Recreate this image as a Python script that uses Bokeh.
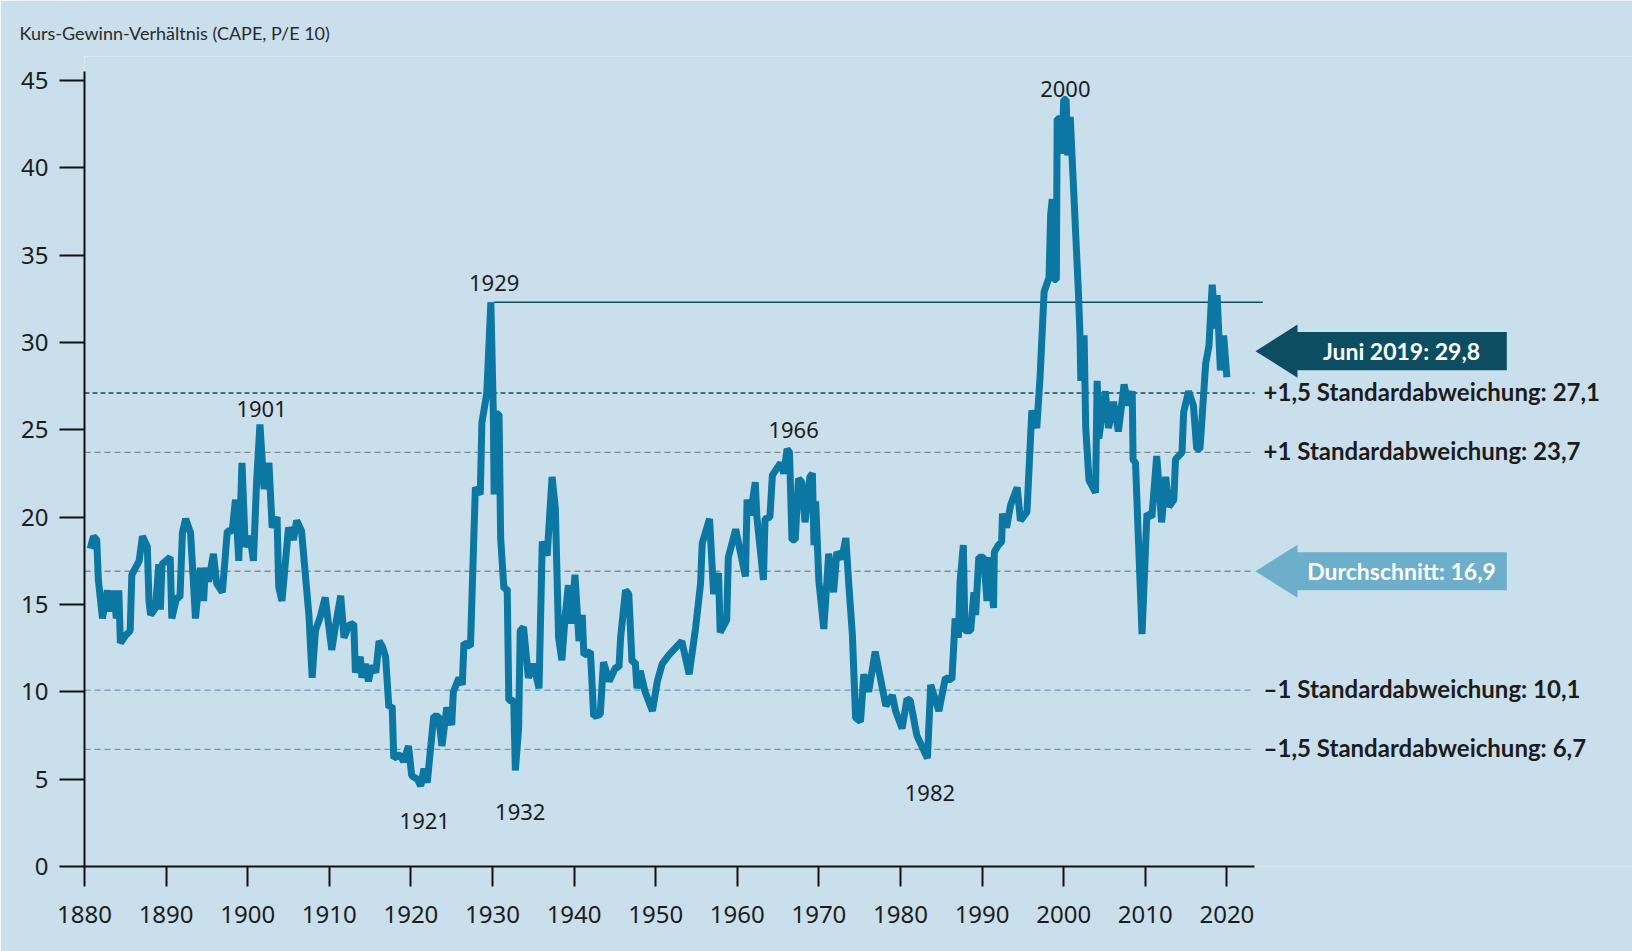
from bokeh.plotting import figure
from bokeh.models import Range1d, FixedTicker
from bokeh.core.properties import value
from bokeh.embed import file_html
from bokeh.resources import INLINE

# ---------------- data ----------------
years = [
    1880.7, 1881.1, 1881.5, 1881.7, 1882.2, 1882.8, 1883.2, 1883.6, 1883.9, 1884.2,
    1884.4, 1885.0, 1885.6, 1885.8, 1886.7, 1887.1, 1887.7, 1887.9, 1888.1, 1888.7,
    1889.1, 1889.3, 1889.5, 1890.5, 1890.7, 1891.3, 1891.7, 1892.0, 1892.4, 1893.0,
    1893.6, 1894.2, 1894.6, 1894.8, 1895.2, 1895.8, 1896.2, 1896.9, 1897.5, 1898.1,
    1898.5, 1898.9, 1899.3, 1899.7, 1900.3, 1900.7, 1901.1, 1901.5, 1902.0, 1902.6,
    1903.0, 1903.6, 1903.8, 1904.2, 1905.0, 1905.6, 1906.0, 1906.6, 1907.5, 1907.9,
    1908.3, 1908.9, 1909.5, 1910.3, 1910.8, 1911.4, 1911.8, 1912.4, 1913.0, 1913.2,
    1913.8, 1914.0, 1914.4, 1914.8, 1915.2, 1915.7, 1916.1, 1916.5, 1916.9, 1917.3,
    1917.7, 1917.9, 1918.7, 1919.1, 1919.7, 1920.1, 1920.8, 1921.2, 1921.6, 1922.0,
    1922.8, 1923.4, 1923.8, 1924.4, 1925.0, 1925.2, 1925.9, 1926.3, 1926.5, 1927.3,
    1927.9, 1928.5, 1928.7, 1929.3, 1929.8, 1930.1, 1930.2, 1930.5, 1930.8, 1931.0,
    1931.4, 1931.8, 1932.0, 1932.6, 1932.8, 1933.2, 1933.4, 1933.8, 1934.4, 1935.0,
    1935.7, 1936.1, 1936.7, 1937.3, 1937.7, 1938.1, 1938.5, 1938.9, 1939.3, 1939.7,
    1940.1, 1940.6, 1941.0, 1941.2, 1942.0, 1942.4, 1943.2, 1943.6, 1944.3, 1945.1,
    1945.5, 1945.7, 1946.3, 1946.7, 1947.1, 1947.5, 1947.7, 1948.1, 1948.7, 1949.6,
    1950.2, 1950.8, 1951.6, 1953.2, 1954.1, 1954.9, 1955.5, 1955.7, 1956.6, 1957.1,
    1957.7, 1957.9, 1958.7, 1958.9, 1959.8, 1961.0, 1961.2, 1961.6, 1962.2, 1962.4,
    1963.2, 1963.4, 1964.0, 1964.3, 1965.3, 1965.7, 1966.1, 1966.4, 1966.7, 1967.1,
    1967.5, 1967.9, 1968.3, 1968.9, 1969.2, 1969.4, 1969.6, 1970.0, 1970.6, 1971.2,
    1971.8, 1972.2, 1972.8, 1973.3, 1973.7, 1974.1, 1974.5, 1975.1, 1975.5, 1976.1,
    1976.9, 1978.2, 1979.0, 1979.4, 1980.2, 1980.8, 1981.2, 1982.0, 1983.3, 1983.7,
    1984.7, 1985.5, 1986.3, 1986.7, 1987.1, 1987.3, 1987.7, 1987.9, 1988.6, 1989.0,
    1989.2, 1989.6, 1990.2, 1990.6, 1991.0, 1991.4, 1991.5, 1992.0, 1992.4, 1992.5,
    1993.0, 1993.5, 1994.3, 1994.7, 1995.5, 1995.9, 1996.1, 1996.7, 1997.1, 1997.6,
    1998.2, 1998.4, 1998.6, 1998.8, 1999.1, 1999.2, 1999.6, 1999.8, 2000.0, 2000.3,
    2000.5, 2000.8, 2001.8, 2002.0, 2002.1, 2002.5, 2002.7, 2003.1, 2003.9, 2004.1,
    2004.3, 2005.1, 2005.5, 2006.1, 2006.7, 2007.4, 2007.9, 2008.4, 2008.5, 2008.8,
    2009.6, 2010.2, 2010.8, 2011.4, 2012.0, 2012.5, 2012.9, 2013.5, 2013.7, 2014.5,
    2014.7, 2015.3, 2015.9, 2016.3, 2016.7, 2017.4, 2017.8, 2018.2, 2018.4, 2018.6,
    2018.8, 2019.2, 2019.6, 2020.0,
]
cape = [
    18.2, 18.9, 18.7, 16.4, 14.2, 15.8, 14.6, 15.8, 14.2, 15.8,
    12.8, 13.2, 13.5, 16.7, 17.5, 18.9, 18.3, 15.2, 14.4, 14.8,
    17.3, 14.7, 17.3, 17.7, 14.2, 15.4, 15.4, 19.1, 19.9, 19.1,
    14.2, 17.1, 15.2, 17.1, 16.3, 17.9, 16.2, 15.7, 19.2, 19.2,
    21.0, 17.5, 23.1, 18.3, 18.9, 17.5, 22.1, 25.3, 21.6, 23.1,
    19.4, 20.0, 16.0, 15.2, 19.4, 18.7, 19.8, 19.2, 14.4, 10.8,
    13.5, 14.3, 15.4, 12.4, 13.9, 15.5, 13.1, 13.8, 13.9, 11.1,
    12.0, 10.8, 11.6, 10.6, 11.5, 11.1, 12.9, 12.6, 12.0, 9.1,
    9.2, 6.2, 6.4, 6.0, 6.9, 5.2, 5.0, 4.6, 5.6, 4.8,
    8.6, 8.6, 6.9, 9.1, 8.1, 10.0, 10.8, 10.4, 12.8, 12.6,
    21.7, 21.3, 25.4, 27.1, 32.3, 26.0, 21.3, 25.9, 25.9, 18.8,
    15.9, 15.9, 9.5, 9.5, 5.5, 7.9, 13.5, 13.7, 10.8, 11.6,
    10.2, 18.6, 17.8, 22.3, 20.5, 13.1, 11.8, 14.3, 16.1, 13.9,
    16.7, 12.9, 14.4, 12.1, 12.3, 8.6, 8.7, 11.7, 10.6, 11.4,
    11.4, 13.1, 15.8, 15.6, 11.7, 11.7, 10.2, 11.2, 10.0, 8.9,
    10.6, 11.6, 12.1, 12.9, 11.0, 13.7, 16.2, 18.5, 19.9, 15.6,
    16.8, 13.4, 14.1, 17.7, 19.3, 16.6, 21.0, 20.1, 22.0, 20.0,
    16.4, 19.9, 20.0, 22.4, 23.1, 22.5, 23.9, 23.7, 18.7, 18.7,
    22.2, 22.0, 19.7, 22.3, 22.5, 18.4, 20.9, 16.3, 13.6, 17.9,
    15.7, 18.0, 17.6, 18.8, 15.9, 13.3, 8.5, 8.3, 11.0, 10.0,
    12.3, 9.2, 9.8, 8.9, 7.9, 9.6, 9.5, 7.5, 6.2, 10.4,
    8.9, 10.8, 10.7, 14.2, 13.1, 16.3, 18.4, 13.5, 13.5, 15.7,
    14.4, 17.7, 17.7, 15.2, 17.7, 14.8, 18.0, 18.4, 18.6, 20.2,
    19.4, 20.7, 21.7, 19.8, 20.3, 24.2, 26.1, 25.1, 28.0, 32.9,
    33.7, 37.3, 38.2, 33.6, 33.6, 42.8, 42.8, 40.8, 43.9, 43.9,
    40.7, 42.9, 32.9, 30.4, 27.8, 30.4, 25.1, 22.1, 21.4, 27.8,
    24.5, 27.2, 25.1, 26.6, 24.9, 27.6, 26.4, 27.2, 23.3, 23.1,
    13.3, 20.2, 20.0, 23.5, 19.7, 22.3, 20.6, 21.0, 23.3, 23.7,
    26.0, 27.2, 26.4, 23.9, 23.9, 28.8, 29.8, 33.3, 32.1, 30.8,
    32.7, 28.4, 30.4, 28.0,
]

x_ticks = list(range(1880, 2021, 10))
y_ticks = list(range(0, 46, 5))

band_values = [27.1, 23.7, 16.9, 10.1, 6.7]
band_texts = [
    "+1,5 Standardabweichung: 27,1",
    "+1 Standardabweichung: 23,7",
    "Durchschnitt: 16,9",
    "\u20131 Standardabweichung: 10,1",
    "\u20131,5 Standardabweichung: 6,7",
]
current_text = "Juni 2019: 29,8"
title_text = "Kurs-Gewinn-Verh\u00e4ltnis (CAPE, P/E 10)"
event_texts = ["1901", "1929", "1966", "2000", "1921", "1932", "1982"]

# ---------------- layout / styling ----------------
W, H = 1632, 951
LEFT, BOTTOM, TOP = 84, 85, 56
PX_YEAR = 8.16
PX_UNIT = 17.47
x_start = 1880
x_end = x_start + (W - LEFT) / PX_YEAR
y_end = (H - BOTTOM - TOP) / PX_UNIT

BG = "#c9e0ec"
LINE = "#0b77a2"
DARK = "#0c4d61"
LIGHT_ARROW = "#6daecb"
INK = "#1c1c1c"

p = figure(width=W, height=H, x_range=Range1d(x_start, x_end), y_range=Range1d(0, y_end),
           output_backend="svg", toolbar_location=None,
           min_border_left=LEFT, min_border_right=0, min_border_top=TOP, min_border_bottom=BOTTOM,
           background_fill_color=BG, border_fill_color=BG, outline_line_color=None)
p.grid.visible = False

p.title.text = title_text
p.title.align = "left"
p.title.offset = 19 - LEFT
p.title.standoff = 26
p.title.text_font = "Lato"
p.title.text_font_size = "18px"
p.title.text_font_style = "normal"
p.title.text_color = "#2a2a2a"

xa = p.xaxis[0]
xa.ticker = FixedTicker(ticks=x_ticks)
xa.bounds = (1880, 2023.4)
ya = p.yaxis[0]
ya.ticker = FixedTicker(ticks=y_ticks)
ya.bounds = (0, 45.5)
for ax in (xa, ya):
    ax.axis_line_color = "#111111"
    ax.axis_line_width = 2
    ax.major_tick_line_color = "#111111"
    ax.major_tick_line_width = 2
    ax.major_tick_in = 0
    ax.minor_tick_in = 0
    ax.minor_tick_out = 0
    ax.major_label_text_font = "Noto Sans"
    ax.major_label_text_font_size = "24px"
    ax.major_label_text_color = INK
xa.major_tick_out = 20
xa.major_label_standoff = 19
ya.major_tick_out = 25
ya.major_label_standoff = 11

# band lines
x_line_end = 2023.4
band_colors = [DARK, "#7f8a90", "#858b90", "#5f9cbf", "#5f9cbf"]
band_dash = ["5 3", "6 4", "6 4", "6 4", "6 4"]
band_width = [1.6, 1.3, 1.3, 1.3, 1.3]
for v, c, d, w in zip(band_values, band_colors, band_dash, band_width):
    p.segment(x0=[x_start], y0=[v], x1=[x_line_end], y1=[v], line_color=c,
              line_dash=d, line_width=w)

# 1929 peak reference line
pre1940 = [(c, y) for y, c in zip(years, cape) if y < 1940]
peak_val, peak_year = max(pre1940)
p.segment(x0=[peak_year + 0.4], y0=[peak_val], x1=[2024.4], y1=[peak_val],
          line_color=DARK, line_width=1.6)

# main CAPE line
p.line(years, cape, line_width=7, line_color=LINE, line_join="bevel")

# event labels
event_x = [1901.7, 1930.2, 1966.9, 2000.2, 1921.7, 1933.4, 1983.6]
event_y = [26.2, 33.4, 25.0, 44.5, 2.6, 3.1, 4.2]
p.text(x=event_x, y=event_y, text=event_texts, text_font=value("Noto Sans"),
       text_font_size="22px", text_align="center", text_baseline="middle",
       text_color=INK)

# right-side band labels (all except the average, which sits in an arrow)
lab_idx = [0, 1, 3, 4]
p.text(x=[2024.5] * len(lab_idx), y=[band_values[i] + 0.1 for i in lab_idx],
       text=[band_texts[i] for i in lab_idx], text_font=value("Lato"),
       text_font_style="bold", text_font_size="24px", text_align="left",
       text_baseline="middle", text_color=INK)

# arrows
tip, base, end = 2023.5, 2028.65, 2054.3
head_h, body_h = 1.52, 1.09

def arrow(cy):
    xs = [tip, base, base, end, end, base, base]
    ys = [cy, cy + head_h, cy + body_h, cy + body_h, cy - body_h, cy - body_h, cy - head_h]
    return xs, ys

ax_, ay_ = arrow(29.5)
p.patch(ax_, ay_, fill_color=DARK, line_color=None)
bx_, by_ = arrow(band_values[2])
p.patch(bx_, by_, fill_color=LIGHT_ARROW, line_color=None)
p.text(x=[2041.4, 2041.4], y=[29.5, band_values[2]], text=[current_text, band_texts[2]],
       text_font=value("Lato"), text_font_style="bold", text_font_size="23px",
       text_align="center", text_baseline="middle", text_color="white")

open("out.html", "w").write(file_html(p, INLINE))
